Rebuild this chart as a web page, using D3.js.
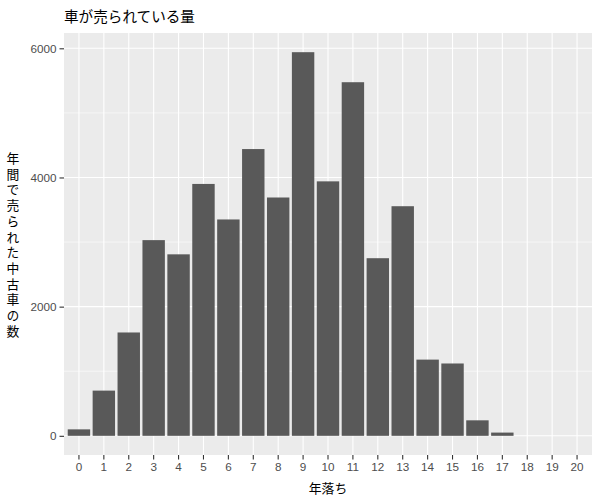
<!DOCTYPE html>
<html><head><meta charset="utf-8">
<script src="https://cdn.jsdelivr.net/npm/d3@7"></script>
<style>body{margin:0;background:#fff}</style>
</head><body>
<script>
const years = ["0","1","2","3","4","5","6","7","8","9","10","11","12","13","14","15","16","17","18","19","20"];
const counts = [100,700,1600,3030,2810,3900,3350,4440,3690,5940,3940,5475,2750,3555,1180,1120,240,50,0,0,0];
const yTicks = [0,2000,4000,6000];
const yMinor = [1000,3000,5000];
const title = "車が売られている量";
const xTitle = "年落ち";
const yTitle = "年間で売られた中古車の数";

const W=600,H=500;
const m={l:64,t:33,r:8,b:45};
const svg=d3.select("body").append("svg").attr("width",W).attr("height",H);
const pw=W-m.l-m.r, ph=H-m.t-m.b;
// ggplot-like: discrete expansion 0.6 units, bar width 0.9
const step=pw/(years.length-1+1.2);
const x=d3.scaleBand().domain(years)
 .range([m.l+0.6*step-step/2, m.l+pw-0.6*step+step/2]).paddingInner(0.1).paddingOuter(0.05);
const maxV=d3.max(counts);
const y=d3.scaleLinear().domain([-0.05*maxV,maxV*1.05]).range([m.t+ph,m.t]);
const g=svg.append("g");
g.append("rect").attr("x",m.l).attr("y",m.t).attr("width",pw).attr("height",ph).attr("fill","#EBEBEB");
g.selectAll(".mn").data(yMinor).enter().append("line")
 .attr("x1",m.l).attr("x2",m.l+pw).attr("y1",d=>y(d)).attr("y2",d=>y(d))
 .attr("stroke","#fff").attr("stroke-width",0.55);
g.selectAll(".mj").data(yTicks).enter().append("line")
 .attr("x1",m.l).attr("x2",m.l+pw).attr("y1",d=>y(d)).attr("y2",d=>y(d))
 .attr("stroke","#fff").attr("stroke-width",1.1);
g.selectAll(".vx").data(years).enter().append("line")
 .attr("y1",m.t).attr("y2",m.t+ph).attr("x1",d=>x(d)+x.bandwidth()/2).attr("x2",d=>x(d)+x.bandwidth()/2)
 .attr("stroke","#fff").attr("stroke-width",1.1);
g.selectAll(".bar").data(years).enter().append("rect")
 .attr("x",d=>x(d)).attr("width",x.bandwidth())
 .attr("y",(d,i)=>y(counts[i])).attr("height",(d,i)=>y(0)-y(counts[i]))
 .attr("fill","#595959");
// axes
const xa=svg.append("g").attr("transform",`translate(0,${m.t+ph})`)
 .call(d3.axisBottom(x).tickSize(4.5).tickPadding(3));
const ya=svg.append("g").attr("transform",`translate(${m.l},0)`)
 .call(d3.axisLeft(y).tickValues(yTicks).tickFormat(d3.format("d")).tickSize(4.5).tickPadding(3));
[xa,ya].forEach(a=>{
 a.select(".domain").remove();
 a.selectAll(".tick line").attr("stroke","#333").attr("stroke-width",1.1);
 a.selectAll(".tick text").attr("fill","#4D4D4D").style("font-size","11.7px").style("font-family","Liberation Sans, Arial, sans-serif");
});
svg.append("text").attr("x",m.l).attr("y",22).text(title)
 .style("font-size","14.6px").style("font-family","Noto Sans CJK JP").attr("fill","#000");
svg.append("text").attr("x",m.l+pw/2).attr("y",493).attr("text-anchor","middle").text(xTitle)
 .style("font-size","12.8px").style("font-family","Noto Sans CJK JP").attr("fill","#000");
svg.append("text").attr("x",13).attr("y",(m.t+m.t+ph)/2+2)
 .attr("text-anchor","middle")
 .style("writing-mode","vertical-rl").style("text-orientation","upright")
 .style("letter-spacing","2.9px")
 .style("font-size","12.8px").style("font-family","Noto Sans CJK JP").attr("fill","#000")
 .text(yTitle);
</script>
</body></html>
